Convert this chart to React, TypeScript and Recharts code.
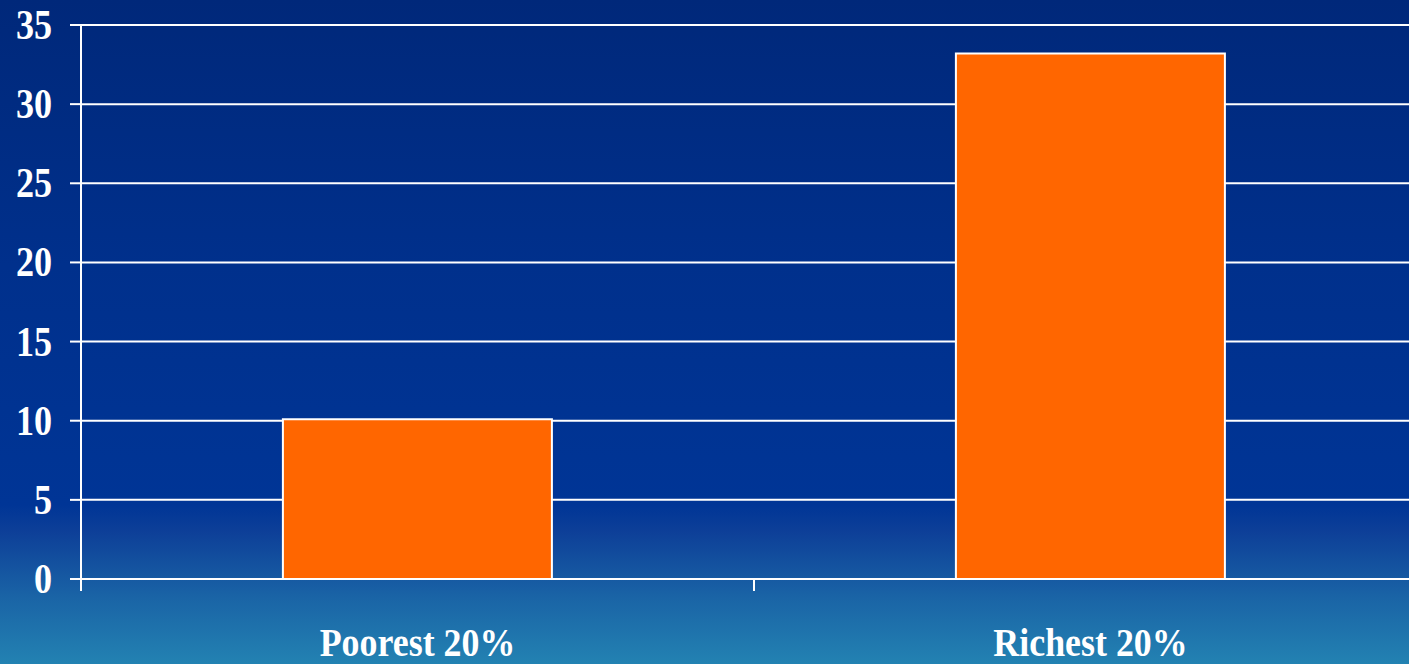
import React from "react";
import { BarChart, Bar, XAxis, YAxis, CartesianGrid } from "recharts";

const categories = ["Poorest 20%", "Richest 20%"];
const values = [10.1, 33.2];
const yTicks = [0, 5, 10, 15, 20, 25, 30, 35];

const data = categories.map((name, i) => ({ name, value: values[i] }));

const CHART_W = 1427;
const CHART_H = 664;
const Y_AXIS_W = 81;
const MARGIN = { top: 25, right: 0, left: 0, bottom: 0 };
const BAND = (CHART_W - Y_AXIS_W - MARGIN.left - MARGIN.right) / categories.length;

const FONT = "'Liberation Serif', 'Times New Roman', serif";

const YTick = (props: any) => {
  const { x, y, payload } = props;
  return (
    <g transform={`translate(${x},${y + 14}) scale(0.86,1)`}>
      <text x={0} y={0} textAnchor="end" fill="#ffffff" fontFamily={FONT} fontWeight="bold" fontSize={42}>
        {payload.value}
      </text>
    </g>
  );
};

const XTick = (props: any) => {
  const { x, y, payload } = props;
  const left = x - BAND / 2;
  return (
    <g>
      <line x1={left} y1={y} x2={left} y2={y + 12} stroke="#ffffff" strokeWidth={2} />
      <g transform={`translate(${x},${y + 77}) scale(0.92,1)`}>
        <text x={0} y={0} textAnchor="middle" fill="#ffffff" fontFamily={FONT} fontWeight="bold" fontSize={39}>
          {payload.value}
        </text>
      </g>
    </g>
  );
};

export default function App() {
  return (
    <div
      style={{
        position: "fixed",
        left: 0,
        top: 0,
        width: 1409,
        height: 664,
        overflow: "hidden",
        background:
          "linear-gradient(to bottom, #00287a 0%, #00308c 40%, #003596 76%, #0d3f98 80%, #1a64a6 90%, #2382b2 100%)",
      }}
    >
      <BarChart width={CHART_W} height={CHART_H} data={data} margin={MARGIN} barCategoryGap="30%">
        <CartesianGrid horizontal={true} vertical={false} stroke="#ffffff" strokeWidth={2} strokeOpacity={1} />
        <XAxis
          dataKey="name"
          height={85}
          axisLine={{ stroke: "#ffffff", strokeWidth: 2 }}
          tickLine={false}
          tickSize={0}
          tickMargin={0}
          tick={<XTick />}
          interval={0}
        />
        <YAxis
          width={Y_AXIS_W}
          domain={[0, 35]}
          ticks={yTicks}
          interval={0}
          axisLine={{ stroke: "#ffffff", strokeWidth: 2 }}
          tickLine={{ stroke: "#ffffff", strokeWidth: 2 }}
          tickSize={11}
          tickMargin={18}
          tick={<YTick />}
        />
        <Bar dataKey="value" fill="#ff6600" stroke="#ffffff" strokeWidth={2} isAnimationActive={false} />
      </BarChart>
    </div>
  );
}
